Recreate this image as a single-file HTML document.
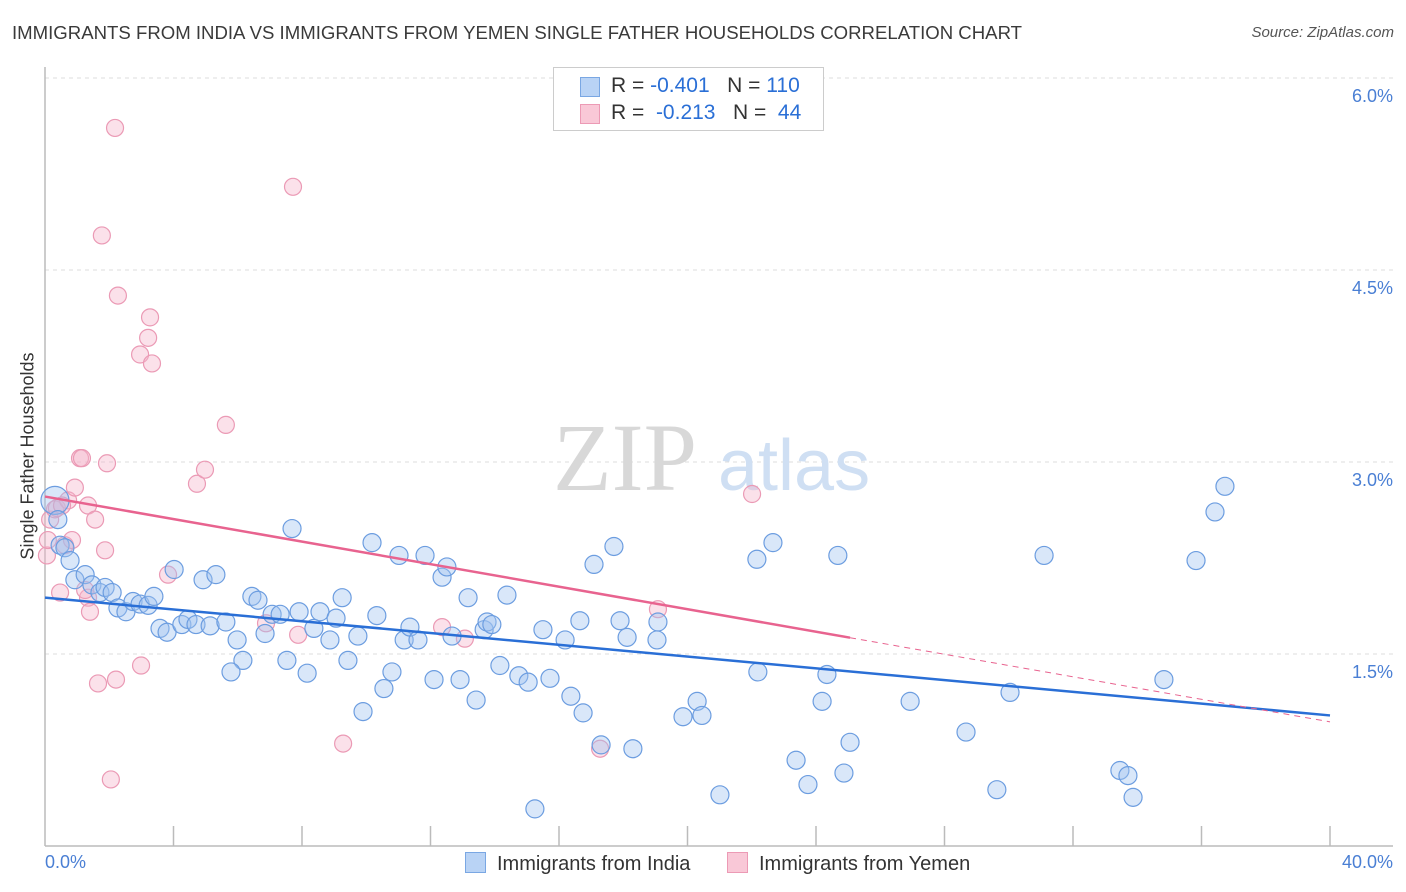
<!DOCTYPE html>
<html><head><meta charset="utf-8">
<style>
body{margin:0;background:#fff;font-family:"Liberation Sans",sans-serif;}
#wrap{position:relative;width:1406px;height:892px;overflow:hidden;}
.t{position:absolute;white-space:nowrap;}
</style></head>
<body>
<div id="wrap">
<div class="t" style="left:12px;top:22px;font-size:18.6px;color:#3a3a3a;">IMMIGRANTS FROM INDIA VS IMMIGRANTS FROM YEMEN SINGLE FATHER HOUSEHOLDS CORRELATION CHART</div>
<div class="t" style="right:12px;top:24px;font-size:15px;color:#555;font-style:italic;">Source: ZipAtlas.com</div>
<svg id="svg" width="1406" height="892" style="position:absolute;left:0;top:0"></svg>
</div>
<script>
const blueX=[0.31,0.40,0.47,0.62,0.78,0.93,1.25,1.46,1.71,1.87,2.09,2.27,2.52,2.74,2.96,3.21,3.39,3.58,3.80,4.02,4.26,4.45,4.70,4.92,5.14,5.32,5.63,5.98,6.16,5.79,6.44,6.63,6.85,7.07,7.32,7.53,7.69,7.91,8.16,8.37,8.56,8.87,9.06,9.25,9.43,9.74,9.90,10.18,10.33,10.55,10.80,11.02,11.18,11.36,11.61,11.83,12.11,12.36,12.51,12.67,12.92,13.17,13.42,13.67,13.76,13.91,14.16,14.38,14.75,15.04,15.50,15.72,16.19,16.37,16.65,16.75,17.09,17.31,17.71,17.90,18.12,18.30,19.05,19.08,19.86,20.30,20.45,21.01,22.16,22.19,22.66,23.38,23.75,24.19,24.34,24.68,24.87,25.06,26.93,28.67,29.63,30.04,31.10,33.46,33.71,33.87,34.83,35.83,36.42,36.73,15.25];
const blueY=[2.70,2.55,2.35,2.33,2.23,2.08,2.12,2.04,1.98,2.02,1.98,1.86,1.83,1.91,1.89,1.88,1.95,1.70,1.67,2.16,1.73,1.77,1.73,2.08,1.72,2.12,1.75,1.61,1.45,1.36,1.95,1.92,1.66,1.81,1.81,1.45,2.48,1.83,1.35,1.70,1.83,1.61,1.78,1.94,1.45,1.64,1.05,2.37,1.80,1.23,1.36,2.27,1.61,1.71,1.61,2.27,1.30,2.10,2.18,1.64,1.30,1.94,1.14,1.69,1.75,1.73,1.41,1.96,1.33,1.28,1.69,1.31,1.61,1.17,1.76,1.04,2.20,0.79,2.34,1.76,1.63,0.76,1.61,1.75,1.01,1.13,1.02,0.40,2.24,1.36,2.37,0.67,0.48,1.13,1.34,2.27,0.57,0.81,1.13,0.89,0.44,1.20,2.27,0.59,0.55,0.38,1.30,2.23,2.61,2.81,0.29];
const pinkX=[0.06,0.16,0.31,0.37,0.47,0.62,0.72,0.84,0.93,1.09,1.15,1.34,1.34,1.40,1.56,1.65,1.77,1.87,1.93,2.05,2.21,2.18,2.27,2.96,2.99,3.21,3.27,3.33,3.83,4.73,4.98,5.63,6.88,7.72,7.88,9.28,12.36,13.07,17.28,19.08,22.01,0.09,0.53,1.25];
const pinkY=[2.27,2.55,2.63,2.64,1.98,2.35,2.70,2.39,2.80,3.03,3.03,2.66,1.94,1.83,2.55,1.27,4.77,2.31,2.99,0.52,1.30,5.61,4.30,3.84,1.41,3.97,4.13,3.77,2.12,2.83,2.94,3.29,1.74,5.15,1.65,0.80,1.71,1.62,0.76,1.85,2.75,2.39,2.66,2.00];
const blueTrend=[1.94,1.02];
const pinkTrend=[2.73,0.97];
const pinkSolidEnd=25.06;
const yTicks=[1.5,3.0,4.5,6.0];
const xTickCount=10;

const NS="http://www.w3.org/2000/svg";
const svg=document.getElementById('svg');
const X=v=>45+v/40*1285;
const Y=v=>846-v*128;
function el(tag,attrs,parent){const e=document.createElementNS(NS,tag);for(const k in attrs)e.setAttribute(k,attrs[k]);(parent||svg).appendChild(e);return e;}

yTicks.forEach(v=>{
  const g=el('line',{x1:45,x2:1393,y1:Y(v),y2:Y(v),stroke:'#dcdcdc','stroke-dasharray':'4,4','stroke-width':1});
  
  
  const t=el('text',{x:1393,y:Y(v)+24,'text-anchor':'end','font-size':18,fill:'#4a7fd4','font-family':'Liberation Sans, sans-serif'});
  t.textContent=v.toFixed(1)+'%';
  
  
});
const ax=el('line',{x1:45,x2:45,y1:67,y2:846,stroke:'#bbb','stroke-width':1.5});


const bx=el('line',{x1:45,x2:1393,y1:846,y2:846,stroke:'#bbb','stroke-width':1.5});


for(let i=1;i<=xTickCount;i++){
  const tk=el('line',{x1:X(i*4),x2:X(i*4),y1:826,y2:846,stroke:'#bbb','stroke-width':1.5});
  
  
}
const wm=el('text',{x:553,y:490,'font-size':96,fill:'#d8d8d8','font-family':'Liberation Serif, serif'});
wm.textContent='ZIP';


const wm2=el('text',{x:718,y:490,'font-size':72,fill:'#cfdff3','font-family':'Liberation Sans, sans-serif'});
wm2.textContent='atlas';



pinkX.forEach((x,i)=>{
  const c=el('circle',{cx:X(x),cy:Y(pinkY[i]),r:8.5,fill:'rgba(246,180,202,0.4)',stroke:'#eb9ab5','stroke-width':1.2});
  
  
});
blueX.forEach((x,i)=>{
  const c=el('circle',{cx:X(x),cy:Y(blueY[i]),r:i===0?14:9,fill:'rgba(160,196,240,0.4)',stroke:'#6c9de0','stroke-width':1.2});
  
  
});
const bl=el('line',{x1:X(0),y1:Y(blueTrend[0]),x2:X(40),y2:Y(blueTrend[1]),stroke:'#2a6fd6','stroke-width':2.5});


const pm=pinkTrend[0]+(pinkTrend[1]-pinkTrend[0])*pinkSolidEnd/40;
const pl=el('line',{x1:X(0),y1:Y(pinkTrend[0]),x2:X(pinkSolidEnd),y2:Y(pm),stroke:'#e8638f','stroke-width':2.5});


const pd=el('line',{x1:X(pinkSolidEnd),y1:Y(pm),x2:X(40),y2:Y(pinkTrend[1]),stroke:'#e8638f','stroke-width':1,'stroke-dasharray':'6,5'});


</script>
<div class="t" style="left:28px;top:456px;font-size:18px;color:#333;transform:translate(-50%,-50%) rotate(-90deg);">Single Father Households</div>
<div class="t" style="left:45px;top:852px;font-size:18px;color:#4a7fd4;">0.0%</div>
<div class="t" style="right:13px;top:852px;font-size:18px;color:#4a7fd4;">40.0%</div>
<div style="position:absolute;left:553px;top:67px;width:269px;height:62px;border:1px solid #ccc;background:#fff;font-size:21px;color:#333;">
  <div style="position:absolute;left:26px;top:9px;width:18px;height:18px;background:#b9d3f5;border:1px solid #7aa7e3;"></div>
  <div class="t" style="left:57px;top:6px;">R = <span style="color:#2a6fd6">-0.401</span>&nbsp;&nbsp;&nbsp;N = <span style="color:#2a6fd6">110</span></div>
  <div style="position:absolute;left:26px;top:36px;width:18px;height:18px;background:#f9c8d7;border:1px solid #ec9ab5;"></div>
  <div class="t" style="left:57px;top:33px;">R = &nbsp;<span style="color:#2a6fd6">-0.213</span>&nbsp;&nbsp;&nbsp;N = &nbsp;<span style="color:#2a6fd6">44</span></div>
</div>
<div style="position:absolute;left:465px;top:852px;font-size:20px;color:#333;">
  <span style="display:inline-block;width:19px;height:19px;background:#b9d3f5;border:1px solid #7aa7e3;vertical-align:-3px;margin-right:11px;"></span>Immigrants from India</div>
<div style="position:absolute;left:727px;top:852px;font-size:20px;color:#333;">
  <span style="display:inline-block;width:19px;height:19px;background:#f9c8d7;border:1px solid #ec9ab5;vertical-align:-3px;margin-right:11px;"></span>Immigrants from Yemen</div>
</body></html>
